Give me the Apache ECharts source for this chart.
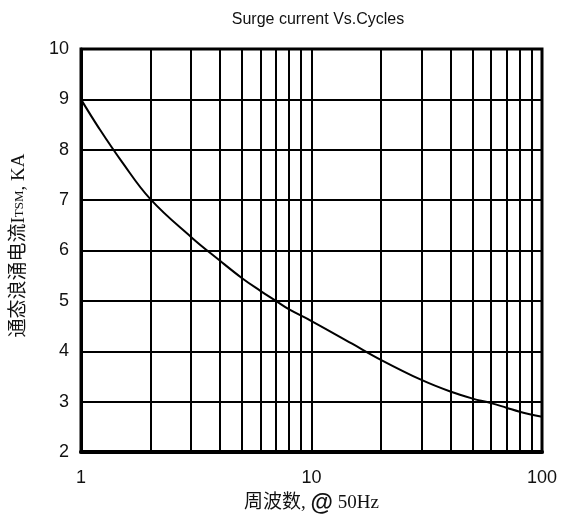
<!DOCTYPE html>
<html>
<head>
<meta charset="utf-8">
<script src="https://cdn.jsdelivr.net/npm/echarts@6/dist/echarts.min.js"></script>
<style>html,body{margin:0;padding:0;background:#fff;}#c{width:562px;height:523px;}</style>
</head>
<body>
<div id="c"></div>
<script>
const cycles  = [1, 1.2, 1.5, 2, 3, 4, 5, 6, 7, 8, 10, 15, 20, 30, 40, 50, 60, 70, 80, 100];
const current = [9.0, 8.42, 7.77, 7.02, 6.27, 5.8, 5.45, 5.2, 5.0, 4.83, 4.6, 4.15, 3.83, 3.43, 3.2, 3.06, 2.97, 2.88, 2.8, 2.7];
const minorGridX = [2, 3, 4, 5, 6, 7, 8, 9, 20, 30, 40, 50, 60, 70, 80, 90];
const titleText = 'Surge current Vs.Cycles';

const chart = echarts.init(document.getElementById('c'));
chart.setOption({
  animation: false,
  backgroundColor: '#fff',
  title: {
    text: titleText, left: 313, top: 7, textAlign: 'center',
    textStyle: { fontFamily: 'Liberation Sans', fontSize: 16, fontWeight: 'normal', color: '#111' }
  },
  grid: { left: 81, top: 49, width: 461, height: 403, show: true, borderColor: '#000', borderWidth: 3, containLabel: false },
  xAxis: {
    type: 'log', logBase: 10, min: 1, max: 100,
    name: '{a|周波数, }{b|@}{a| 50Hz}', nameLocation: 'middle', nameGap: 37,
    nameTextStyle: { rich: {
      a: { fontFamily: 'Liberation Serif, Noto Sans CJK SC', fontSize: 19, color: '#111' },
      b: { fontFamily: 'Liberation Sans', fontSize: 23, fontWeight: 'bold', color: '#111' } } },
    axisLine: { show: true, lineStyle: { color: '#000', width: 4 } },
    axisTick: { show: false },
    axisLabel: { fontFamily: 'Liberation Sans', fontSize: 18, color: '#111', margin: 17 },
    splitLine: { show: true, lineStyle: { color: '#000', width: 2 } },
    minorTick: { show: false }, minorSplitLine: { show: false }
  },
  yAxis: {
    type: 'value', min: 2, max: 10, interval: 1,
    name: '{a|通态浪涌电流I}{b|TSM}{a|, KA}', nameLocation: 'middle', nameGap: 52, nameRotate: 90,
    nameTextStyle: { padding: [0, 0, 0, 10], rich: {
      a: { fontFamily: 'Liberation Serif, Noto Sans CJK SC', fontSize: 19, color: '#111' },
      b: { fontFamily: 'Liberation Serif', fontSize: 13, color: '#111' } } },
    axisLine: { show: true, lineStyle: { color: '#000', width: 3 } },
    axisTick: { show: false },
    axisLabel: { fontFamily: 'Liberation Sans', fontSize: 18, color: '#111', margin: 12 },
    splitLine: { show: true, lineStyle: { color: '#000', width: 2 } }
  },
  series: [{
    type: 'line',
    data: cycles.map((c, i) => [c, current[i]]),
    smooth: 0.4, showSymbol: false, symbol: 'none',
    lineStyle: { color: '#000', width: 2 },
    markLine: {
      silent: true, symbol: 'none', label: { show: false },
      lineStyle: { color: '#000', width: 2, type: 'solid' },
      data: minorGridX.map(v => ({ xAxis: v }))
    }
  }]
});
</script>
</body>
</html>
